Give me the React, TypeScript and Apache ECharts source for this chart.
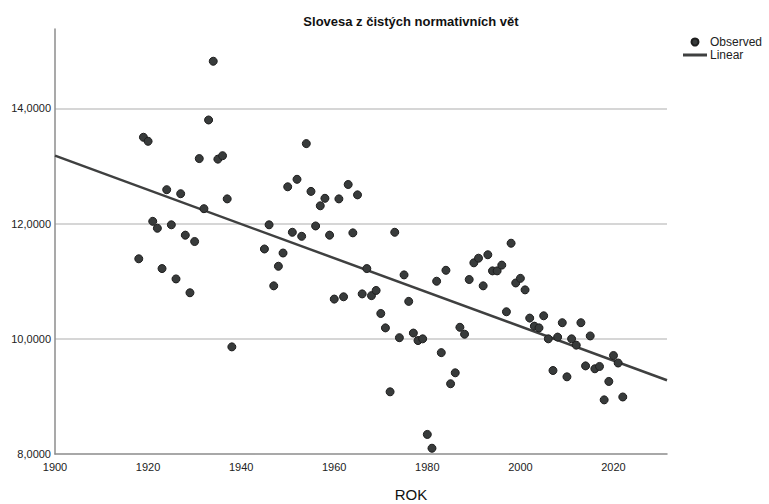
import React, { useEffect, useRef } from "react";
import * as echarts from "echarts";

const TITLE = "Slovesa z čistých normativních vět";
const X_NAME = "ROK";
const SERIES_OBSERVED = "Observed";
const SERIES_LINEAR = "Linear";

const years = [
  1918, 1919, 1920, 1921, 1922, 1923, 1924, 1925, 1926, 1927, 1928, 1929, 1930,
  1931, 1932, 1933, 1934, 1935, 1936, 1937, 1938,
  1945, 1946, 1947, 1948, 1949, 1950, 1951, 1952, 1953, 1954, 1955, 1956, 1957,
  1958, 1959, 1960, 1961, 1962, 1963, 1964, 1965, 1966, 1967, 1968, 1969, 1970,
  1971, 1972, 1973, 1974, 1975, 1976, 1977, 1978, 1979, 1980, 1981, 1982, 1983,
  1984, 1985, 1986, 1987, 1988, 1989, 1990, 1991, 1992, 1993, 1994, 1995, 1996,
  1997, 1998, 1999, 2000, 2001, 2002, 2003, 2004, 2005, 2006, 2007, 2008, 2009,
  2010, 2011, 2012, 2013, 2014, 2015, 2016, 2017, 2018, 2019, 2020, 2021, 2022,
];

const values = [
  11.39, 13.5, 13.43, 12.04, 11.92, 11.22, 12.59, 11.98, 11.04, 12.52, 11.8, 10.8, 11.69,
  13.13, 12.26, 13.8, 14.82, 13.12, 13.18, 12.43, 9.86,
  11.56, 11.98, 10.92, 11.26, 11.49, 12.64, 11.85, 12.77, 11.78, 13.39, 12.56, 11.96, 12.31,
  12.44, 11.8, 10.69, 12.43, 10.73, 12.68, 11.84, 12.5, 10.78, 11.22, 10.75, 10.84, 10.44,
  10.19, 9.08, 11.85, 10.02, 11.11, 10.65, 10.1, 9.97, 10.0, 8.34, 8.1, 11.0, 9.76,
  11.19, 9.22, 9.41, 10.2, 10.08, 11.03, 11.32, 11.4, 10.92, 11.46, 11.18, 11.18, 11.28,
  10.47, 11.66, 10.97, 11.05, 10.85, 10.36, 10.22, 10.19, 10.4, 10.0, 9.45, 10.03, 10.28,
  9.34, 10.0, 9.89, 10.28, 9.53, 10.05, 9.48, 9.52, 8.94, 9.26, 9.71, 9.58, 8.99,
];

// Linear fit line as drawn in the reference: [year, value] at both ends of the axis
const fitYears = [1900, 2031.5];
const fitValues = [13.18, 9.28];

const X_MIN = 1900;
const X_MAX = 2031.5;
const X_INTERVAL = 20;
const Y_MIN = 8;
const Y_MAX = 15.38;
const Y_INTERVAL = 2;

export default function App() {
  const ref = useRef<HTMLDivElement>(null);

  useEffect(() => {
    if (!ref.current) return;
    const chart = echarts.init(ref.current, undefined, { renderer: "svg" });
    const font = "'Liberation Sans', Arial, sans-serif";

    chart.setOption({
      animation: false,
      backgroundColor: "#ffffff",
      textStyle: { fontFamily: font },
      title: [
        {
          text: TITLE,
          left: 406,
          top: 10,
          textAlign: "center",
          textStyle: { fontFamily: font, fontSize: 13, fontWeight: "bold", color: "#111" },
        },
        {
          text: X_NAME,
          left: 411,
          top: 486,
          padding: 0,
          textAlign: "center",
          textStyle: { fontFamily: font, fontSize: 15, fontWeight: "normal", color: "#111", lineHeight: 17 },
        },
      ],
      legend: {
        orient: "vertical",
        left: 678,
        top: 31,
        itemWidth: 24,
        itemHeight: 7,
        itemGap: 1,
        textStyle: { fontFamily: font, fontSize: 12, color: "#222", padding: [0, 0, 0, -2] },
        data: [
          { name: SERIES_OBSERVED, icon: "circle" },
          { name: SERIES_LINEAR, icon: "path://M0,0 L24,0 L24,3 L0,3 Z" },
        ],
      },
      grid: {
        left: 55,
        top: 29,
        width: 612,
        height: 425,
        containLabel: false,
        outerBoundsMode: "none",
      },
      xAxis: {
        type: "value",
        min: X_MIN,
        max: X_MAX,
        interval: X_INTERVAL,
        axisLine: { show: true, lineStyle: { color: "#8c8c8c", width: 1.5 } },
        axisTick: { show: false },
        splitLine: { show: false },
        axisLabel: {
          color: "#222",
          fontSize: 11,
          margin: 7,
          showMaxLabel: false,
          formatter: (v: number) => (v % X_INTERVAL === 0 ? String(v) : ""),
        },
      },
      yAxis: {
        type: "value",
        min: Y_MIN,
        max: Y_MAX,
        interval: Y_INTERVAL,
        axisLine: { show: true, lineStyle: { color: "#8c8c8c", width: 1.5 } },
        axisTick: { show: false },
        splitLine: {
          show: true,
          showMinLine: false,
          showMaxLine: false,
          lineStyle: { color: "#c8c8c8", width: 1.5 },
        },
        axisLabel: {
          color: "#222",
          fontSize: 11,
          margin: 4,
          showMaxLabel: false,
          verticalAlignMinLabel: "middle",
          formatter: (v: number) =>
            v % Y_INTERVAL === 0 ? v.toFixed(4).replace(".", ",") : "",
        },
      },
      series: [
        {
          name: SERIES_LINEAR,
          type: "line",
          data: fitYears.map((y, i) => [y, fitValues[i]]),
          showSymbol: false,
          symbol: "none",
          lineStyle: { color: "#3f4040", width: 2.5 },
          itemStyle: { color: "#3f4040" },
          z: 2,
        },
        {
          name: SERIES_OBSERVED,
          type: "scatter",
          data: years.map((y, i) => [y, values[i]]),
          symbol: "circle",
          symbolSize: 8,
          itemStyle: { color: "#383b3b", borderColor: "#1e1e1e", borderWidth: 1, opacity: 1 },
          z: 3,
        },
      ],
    });
    return () => chart.dispose();
  }, []);

  return <div ref={ref} style={{ width: 769, height: 504, position: "absolute", left: 0, top: 0 }} />;
}
